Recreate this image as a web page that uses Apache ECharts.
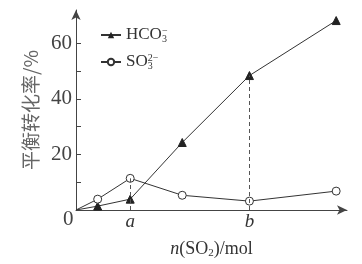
<!DOCTYPE html>
<html><head><meta charset="utf-8">
<script src="https://cdn.jsdelivr.net/npm/echarts@6/dist/echarts.min.js"></script>
<style>html,body{margin:0;padding:0;background:#fff}#c{width:362px;height:264px}</style>
</head><body><div id="c"></div>
<script>
// data
var xHCO3 = [0, 0.4, 1, 1.96, 3.2, 4.8];
var yHCO3 = [0, 1.4, 3.9, 24.3, 48.4, 68.2];
var xSO3 = [0, 0.4, 1, 1.96, 3.2, 4.8];
var ySO3 = [0, 3.9, 11.4, 5.3, 3.2, 6.8];
var xTickA = 1, xTickB = 3.2;
var yTicks = [0, 10, 20, 30, 40, 50, 60];
var yLabels = [20, 40, 60];

function pairs(xs, ys){
  return xs.map(function(x,i){
    var d = {value:[x, ys[i]]};
    if(i===0) d.symbol = 'none';
    return d;
  });
}
var serif = "'Liberation Serif','DejaVu Serif',serif";
var ink = '#333';
var chart = echarts.init(document.getElementById('c'), null, {renderer:'canvas'});
chart.setOption({
  backgroundColor:'#fff',
  animation:false,
  grid:{left:76, right:15, top:10, bottom:53, containLabel:false},
  legend:{
    left:95, top:21, orient:'vertical', itemGap:9, itemWidth:20, itemHeight:8,
    textStyle:{fontFamily:serif, fontSize:17, color:'#333',
      rich:{
        b:{fontFamily:serif, fontSize:17, color:'#333'},
        sup:{fontFamily:serif, fontSize:10, color:'#333', verticalAlign:'top', padding:[0,0,8,0], width:0},
        sub:{fontFamily:serif, fontSize:10, color:'#333', verticalAlign:'bottom', padding:[6,0,0,0]}
      }},
    formatter:function(n){
      if(n==='HCO3') return '{b|HCO}{sup|−}{sub|3}';
      return '{b|SO}{sup|2−}{sub|3}';
    },
    data:['HCO3','SO3']
  },
  xAxis:{
    type:'value', min:0, max:5.0, interval:0.2,
    name:'{i|n}{r|(SO}{s|2}{r|)/mol}', nameLocation:'middle', nameGap:30,
    nameTextStyle:{rich:{
      i:{fontFamily:serif, fontStyle:'italic', fontSize:18, color:'#333'},
      r:{fontFamily:serif, fontSize:18, color:'#333'},
      s:{fontFamily:serif, fontSize:11, color:'#333', verticalAlign:'bottom', padding:[8,0,0,0]}
    }},
    axisLine:{lineStyle:{color:'#444', width:1}, symbol:['none','arrow'], symbolSize:[7,10]},
    axisTick:{show:false},
    splitLine:{show:false},
    axisLabel:{fontFamily:serif, fontStyle:'italic', fontSize:19, color:'#333', margin:2,
      formatter:function(v){ if(Math.abs(v-xTickA)<1e-6) return 'a'; if(Math.abs(v-xTickB)<1e-6) return 'b'; return ''; }}
  },
  yAxis:{
    type:'value', min:0, max:72,
    name:'平衡转化率/%', nameLocation:'middle', nameGap:36, nameRotate:90,
    nameTextStyle:{fontFamily:"'Noto Sans CJK SC',sans-serif", fontSize:19, color:'#666'},
    axisLine:{show:true, lineStyle:{color:'#444', width:1}, symbol:['none','arrow'], symbolSize:[7,10]},
    axisTick:{show:true, inside:true, length:5, customValues:yTicks, lineStyle:{color:'#444'}},
    splitLine:{show:false},
    axisLabel:{fontFamily:serif, fontSize:21, color:'#444', margin:4, customValues:yLabels}
  },
  graphic:[{type:'text', left:63, top:209, style:{text:'0', font:"21px 'Liberation Serif'", fill:'#444'}}],
  series:[
    {name:'HCO3', type:'line', data:pairs(xHCO3,yHCO3), symbol:'triangle', symbolSize:8,
     lineStyle:{color:ink, width:1}, itemStyle:{color:'#222', borderColor:'#222'},
     markLine:{silent:true, symbol:'none', label:{show:false}, lineStyle:{type:[4,3], color:'#555', width:1},
       data:[[{coord:[xTickB,0]},{coord:[xTickB,yHCO3[4]]}]]}},
    {name:'SO3', type:'line', data:pairs(xSO3,ySO3), symbol:'circle', symbolSize:8,
     lineStyle:{color:ink, width:1}, itemStyle:{color:'#fff', borderColor:'#333', borderWidth:1},
     markLine:{silent:true, symbol:'none', label:{show:false}, lineStyle:{type:[4,3], color:'#555', width:1},
       data:[[{coord:[xTickA,0]},{coord:[xTickA,ySO3[2]]}]]}}
  ]
});
</script></body></html>
